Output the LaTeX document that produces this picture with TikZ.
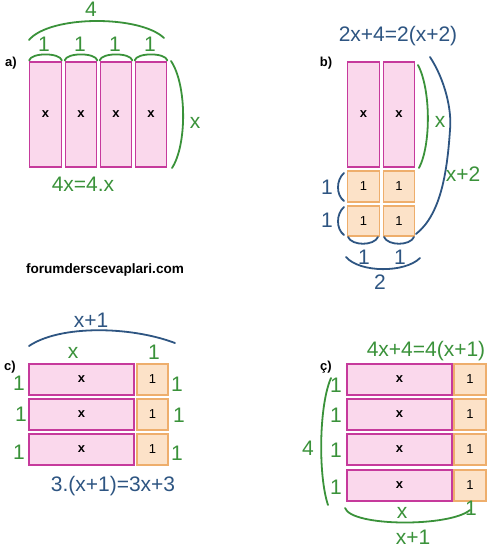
\documentclass[tikz,border=0pt]{standalone}
\usepackage{fontspec}
\setmainfont{Liberation Sans}
\usetikzlibrary{calc}
\definecolor{pinkf}{HTML}{FAD8EC}
\definecolor{pinkd}{HTML}{C63A9C}
\definecolor{orf}{HTML}{FCE2C8}
\definecolor{ord}{HTML}{EEAE6C}
\definecolor{gr}{HTML}{3A923A}
\definecolor{bl}{HTML}{2E5582}
\begin{document}
\begin{tikzpicture}[x=1pt,y=-1pt,
 xbox/.style={draw=pinkd,fill=pinkf,line width=1.2pt,inner sep=0,font=\fontsize{13}{13}\selectfont\bfseries},
 ubox/.style={draw=ord,fill=orf,line width=1.2pt,inner sep=0,font=\fontsize{13}{13}\selectfont},
 glab/.style={text=gr,font=\fontsize{21}{21}\selectfont,inner sep=0},
 blab/.style={text=bl,font=\fontsize{21}{21}\selectfont,inner sep=0},
 gbr/.style={draw=gr,line width=1.8pt,line cap=round},
 bbr/.style={draw=bl,line width=1.8pt,line cap=round},
 tag/.style={font=\fontsize{13}{13}\selectfont\bfseries,inner sep=0}]
\useasboundingbox (0,0) rectangle (497,552);
\fill[white] (0,0) rectangle (497,552);

% ---------- a ----------
\node[tag] (ta) at (11,63) {a)};
\foreach \i/\cx in {1/45.5,2/81,3/116,4/151}{
  \node[xbox,minimum width=31.5pt,minimum height=105pt] (a\i) at (\cx,114.5) {x};
}
\foreach \i/\lx in {1/44,2/80,3/115,4/150}{
  \draw[gbr] ($(a\i.north west)+(0,-1)$) .. controls +(2,-8) and +(-2,-8) .. ($(a\i.north east)+(0,-1)$);
  \node[glab] (a1l\i) at (\lx,44) {1};
}
\coordinate (aL) at (29,40);
\coordinate (aR) at (164,38);
\draw[gbr] (aL) .. controls (50,15) and (140,15) .. (aR);
\node[glab] (a4) at (91,9) {4};
\coordinate (aT) at (171,61);
\coordinate (aB) at (172,168);
\draw[gbr] (aT) .. controls (187,85) and (187,145) .. (aB);
\node[glab] (ax) at (195,123) {x};
\node[glab] (aeq) at (83,184) {4x=4.x};

% ---------- b ----------
\node[blab] (beq) at (398,36) {2x+4=2(x+2)};
\node[tag] (tb) at (326,63) {b)};
\node[xbox,minimum width=31.5pt,minimum height=105pt] (b1) at (363.5,114.5) {x};
\node[xbox,minimum width=31.5pt,minimum height=105pt] (b2) at (399,114.5) {x};
\node[ubox,minimum width=31.5pt,minimum height=31pt] (b3) at (363.5,186.5) {1};
\node[ubox,minimum width=31.5pt,minimum height=31pt] (b4) at (399,186.5) {1};
\node[ubox,minimum width=31.5pt,minimum height=30pt] (b5) at (363.5,221) {1};
\node[ubox,minimum width=31.5pt,minimum height=30pt] (b6) at (399,221) {1};
\coordinate (bgT) at (418,65);
\coordinate (bgB) at (419,168);
\draw[gbr] (bgT) .. controls (431,90) and (431,145) .. (bgB);
\node[glab] (bx) at (440,122) {x};
\coordinate (bbT) at (430,57);
\coordinate (bbM) at (450,130);
\coordinate (bbB) at (416,234);
\draw[bbr] (bbT) .. controls (445,80) and (452,110) .. (bbM) .. controls (447,175) and (440,215) .. (bbB);
\node[glab] (bx2) at (463,174) {x+2};
\draw[bbr] (344,173) .. controls (336,180) and (336,195) .. (344,201);
\draw[bbr] (344,207) .. controls (336,214) and (336,229) .. (344,235);
\node[blab] (bl1) at (327,187) {1};
\node[blab] (bl2) at (327,220) {1};
\draw[bbr] (348,237) .. controls (352,246) and (374,246) .. (378,237);
\draw[bbr] (384,237) .. controls (388,246) and (410,246) .. (414,237);
\node[blab] (bb1) at (364,257) {1};
\node[blab] (bb2) at (400,257) {1};
\coordinate (bwL) at (346,257);
\coordinate (bwR) at (420,258);
\draw[bbr] (bwL) .. controls (360,273) and (405,273) .. (bwR);
\node[blab] (b2l) at (380,282) {2};

% ---------- watermark ----------
\node[inner sep=0,font=\fontsize{13.6}{13.6}\selectfont\bfseries] (wm) at (105,270) {forumderscevaplari.com};

% ---------- c ----------
\node[blab] (cx1) at (91,320) {x+1};
\coordinate (cL) at (29,346);
\coordinate (cR) at (175,343);
\draw[bbr] (cL) .. controls (60,325) and (130,326) .. (cR);
\node[glab] (cx) at (73,353) {x};
\node[glab] (c1) at (154,352) {1};
\node[tag] (tc) at (10,367) {c)};
\foreach \i/\cy in {1/379.5,2/414.5,3/449.5}{
  \node[xbox,minimum width=105pt,minimum height=31pt] (cp\i) at (81.5,\cy) {x};
  \node[ubox,minimum width=31pt,minimum height=31pt] (co\i) at (152.5,\cy) {1};
}
\node[glab] (cl1) at (19,383) {1};
\node[glab] (cl2) at (21,414) {1};
\node[glab] (cl3) at (19,452) {1};
\node[glab] (cr1) at (177,384) {1};
\node[glab] (cr2) at (179,415) {1};
\node[glab] (cr3) at (177,453) {1};
\node[blab] (ceq) at (113,486) {3.(x+1)=3x+3};

% ---------- ç ----------
\node[glab] (deq) at (426,351) {4x+4=4(x+1)};
\node[tag] (td) at (326,367) {ç)};
\foreach \i/\cy in {1/379.5,2/414.5,3/449.5,4/485.5}{
  \node[xbox,minimum width=105pt,minimum height=31pt] (dp\i) at (399.5,\cy) {x};
  \node[ubox,minimum width=32pt,minimum height=31pt] (do\i) at (470,\cy) {1};
}
\node[glab] (dl1) at (336,385) {1};
\node[glab] (dl2) at (336,415) {1};
\node[glab] (dl3) at (336,450) {1};
\node[glab] (dl4) at (336,487) {1};
\coordinate (dT) at (331,378);
\coordinate (dB) at (328,505);
\draw[gbr] (dT) .. controls (319,405) and (318,475) .. (dB);
\node[glab] (d4) at (308,448) {4};
\coordinate (dL) at (345,508);
\coordinate (dR) at (470,510);
\draw[gbr] (dL) .. controls (352,527) and (450,527) .. (dR);
\node[glab] (dx) at (402,513) {x};
\node[glab] (d1) at (471,508) {1};
\node[glab] (dx1) at (413,537) {x+1};
\end{tikzpicture}
\end{document}
